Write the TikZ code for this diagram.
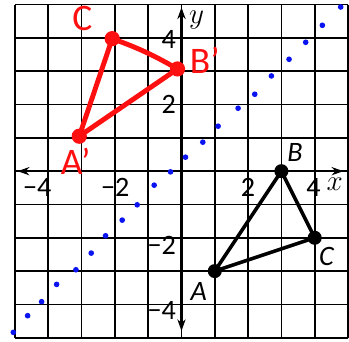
\documentclass[tikz,border=0pt]{standalone}
\usepackage{fontspec}
\setmainfont{Carlito}
\usepackage{tikz}
\usetikzlibrary{arrows.meta}
\definecolor{penred}{HTML}{FF1010}
\definecolor{dotblue}{HTML}{0A14F0}

\begin{document}
\begin{tikzpicture}[
    gridline/.style={black, line width=1.4pt},
    axisline/.style={black, line width=2.2pt,
      {Stealth[length=10pt,width=7pt]}-{Stealth[length=10pt,width=7pt]}},
    ticklbl/.style={inner sep=0pt, font=\fontsize{24}{26}\selectfont},
    varlbl/.style={inner sep=0pt, font=\fontsize{28}{30}\selectfont},
    ptlbl/.style={inner sep=0pt, font=\fontsize{24}{26}\selectfont\itshape},
    handlbl/.style={inner sep=0pt, penred, font=\fontsize{32}{34}\selectfont},
    tri/.style={black, line width=3pt, line join=round},
    redtri/.style={penred, line width=4.2pt, line cap=round, line join=round},
    bdot/.style={circle, fill=black, inner sep=0pt, minimum size=12pt},
    rdot/.style={circle, fill=penred, inner sep=0pt, minimum size=13pt}
  ]
  % canvas
  \useasboundingbox (-5.45,-5.1) rectangle (5.03,5.14);

  % grid
  \foreach \i in {-5,...,5} {
    \draw[gridline] (\i,-5) -- (\i,5);
    \draw[gridline] (-5,\i) -- (5,\i);
  }

  % axes
  \coordinate (xl) at (-4.92,0);
  \coordinate (xr) at (4.86,0);
  \coordinate (yb) at (0,-4.8);
  \coordinate (yt) at (0,4.92);
  \draw[axisline] (xl) -- (xr);
  \draw[axisline] (yb) -- (yt);
  \node[varlbl] (xname) at (4.6,-0.38) {$x$};
  \node[varlbl] (yname) at (0.45,4.55) {$y$};

  % tick labels
  \node[ticklbl, anchor=north east] (xm4) at (-3.9,-0.2) {−4};
  \node[ticklbl, anchor=north east] (xm2) at (-1.56,-0.2) {−2};
  \node[ticklbl, anchor=north] (xp2) at (2,-0.2) {2};
  \node[ticklbl, anchor=north] (xp4) at (3.96,-0.2) {4};
  \node[ticklbl, anchor=east] (yp4) at (-0.16,3.94) {4};
  \node[ticklbl, anchor=east] (yp2) at (-0.16,2.0) {2};
  \node[ticklbl, anchor=east] (ym2) at (-0.16,-2.22) {−2};
  \node[ticklbl, anchor=east] (ym4) at (-0.16,-4.17) {−4};

  % mirror line, dotted by hand
  \foreach \px/\py in {-5.05/-4.84, -4.62/-4.34, -4.20/-3.92, -3.75/-3.40,
      -3.17/-2.96, -2.71/-2.46, -2.28/-1.94, -1.78/-1.47, -1.33/-1.01,
      -0.82/-0.42, -0.33/-0.02, 0.12/0.42, 0.64/0.87, 1.10/1.35,
      1.70/1.89, 2.20/2.31, 2.70/2.86, 3.23/3.36, 3.73/3.87,
      4.23/4.38, 4.78/4.93}
    \fill[dotblue] (\px,\py) circle (0.085);

  % triangle ABC
  \coordinate (A) at (1,-3);
  \coordinate (B) at (3,0);
  \coordinate (C) at (4,-2);
  \draw[tri] (A) -- (B) -- (C) -- cycle;
  \node[bdot] (dotA) at (A) {};
  \node[bdot] (dotB) at (B) {};
  \node[bdot] (dotC) at (C) {};
  \node[ptlbl] (lblA) at (0.52,-3.6) {A};
  \node[ptlbl] (lblB) at (3.41,0.56) {B};
  \node[ptlbl] (lblC) at (4.35,-2.55) {C};

  % reflected triangle, in red pen
  \coordinate (A') at (-3.07,1.05);
  \coordinate (B') at (-0.12,3.07);
  \coordinate (C') at (-2.08,3.98);
  \draw[redtri] (A') -- (C') to[bend left=5] (B') -- cycle;
  \node[rdot] (dotA') at (A') {};
  \node[rdot] (dotB') at (B') {};
  \node[rdot] (dotC') at (C') {};
  \node[handlbl] (lblA') at (-3.18,0.3) {A'};
  \node[handlbl] (lblB') at (0.7,3.32) {B'};
  \node[handlbl] (lblC') at (-2.98,4.6) {C};
\end{tikzpicture}
\end{document}
